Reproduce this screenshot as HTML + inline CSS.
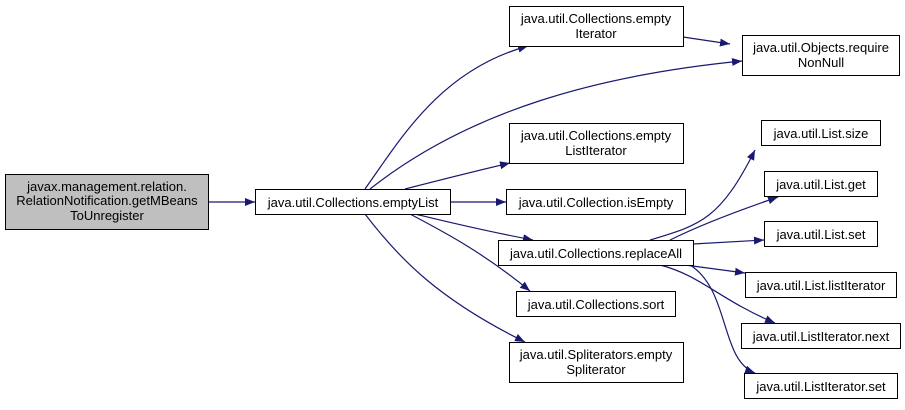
<!DOCTYPE html>
<html><head><meta charset="utf-8"><style>
body{margin:0;background:#fff;}
svg text{font-family:"Liberation Sans",Arial,sans-serif;font-size:13px;fill:#000;text-anchor:middle;}
</style></head><body>
<svg width="905" height="405" viewBox="0 0 905 405" xmlns="http://www.w3.org/2000/svg">
<defs><marker id="a" markerWidth="10" markerHeight="8" refX="10" refY="4" orient="auto" markerUnits="userSpaceOnUse"><path d="M0,0 L10,4 L0,8 Z" fill="#191970"/></marker></defs>
<g fill="none" stroke="#191970" stroke-width="1.2" marker-end="url(#a)">
<path d="M208,202 L255,202"/>
<path d="M365,189 C400,140 440,70 528,46"/>
<path d="M370,189 C470,110 600,75 742,61"/>
<path d="M405,189 C440,180 480,170 510,163"/>
<path d="M450,202 L506,202"/>
<path d="M415,214 C440,220 480,230 533,240"/>
<path d="M410,214 C440,230 480,250 530,291"/>
<path d="M365,214 C400,260 440,300 525,342"/>
<path d="M683,37 L730,44"/>
<path d="M650,240 C700,225 720,220 755,150 "/>
<path d="M670,240 C700,225 740,210 778,197"/>
<path d="M693,244 L764,240"/>
<path d="M685,265 L745,273"/>
<path d="M660,265 C700,275 720,300 775,323"/>
<path d="M690,265 C730,290 720,360 755,373"/>
</g>
<g stroke="#000" stroke-width="1">
<rect x="5.5" y="174.5" width="203" height="55" fill="#bfbfbf"/>
<rect x="255.5" y="189.5" width="195" height="25" fill="#fff"/>
<rect x="509.5" y="6.5" width="174" height="40" fill="#fff"/>
<rect x="742.5" y="35.5" width="157" height="40" fill="#fff"/>
<rect x="509.5" y="123.5" width="174" height="40" fill="#fff"/>
<rect x="506.5" y="189.5" width="179" height="25" fill="#fff"/>
<rect x="498.5" y="240.5" width="195" height="25" fill="#fff"/>
<rect x="516.5" y="291.5" width="159" height="25" fill="#fff"/>
<rect x="509.5" y="342.5" width="174" height="40" fill="#fff"/>
<rect x="761.5" y="120.5" width="119" height="25" fill="#fff"/>
<rect x="764.5" y="171.5" width="113" height="25" fill="#fff"/>
<rect x="764.5" y="221.5" width="113" height="25" fill="#fff"/>
<rect x="745.5" y="272.5" width="151" height="25" fill="#fff"/>
<rect x="741.5" y="323.5" width="159" height="25" fill="#fff"/>
<rect x="744.5" y="373.5" width="153" height="25" fill="#fff"/>
</g>
<text x="107" y="191">javax.management.relation.</text>
<text x="107" y="205">RelationNotification.getMBeans</text>
<text x="107" y="220">ToUnregister</text>
<text x="353" y="207">java.util.Collections.emptyList</text>
<text x="596" y="23">java.util.Collections.empty</text>
<text x="596" y="38">Iterator</text>
<text x="821" y="52">java.util.Objects.require</text>
<text x="821" y="67">NonNull</text>
<text x="596" y="140">java.util.Collections.empty</text>
<text x="596" y="155">ListIterator</text>
<text x="596" y="207">java.util.Collection.isEmpty</text>
<text x="596" y="258">java.util.Collections.replaceAll</text>
<text x="596" y="309">java.util.Collections.sort</text>
<text x="596" y="359">java.util.Spliterators.empty</text>
<text x="596" y="374">Spliterator</text>
<text x="821" y="138">java.util.List.size</text>
<text x="821" y="189">java.util.List.get</text>
<text x="821" y="239">java.util.List.set</text>
<text x="821" y="290">java.util.List.listIterator</text>
<text x="821" y="341">java.util.ListIterator.next</text>
<text x="821" y="391">java.util.ListIterator.set</text>
</svg>
</body></html>
